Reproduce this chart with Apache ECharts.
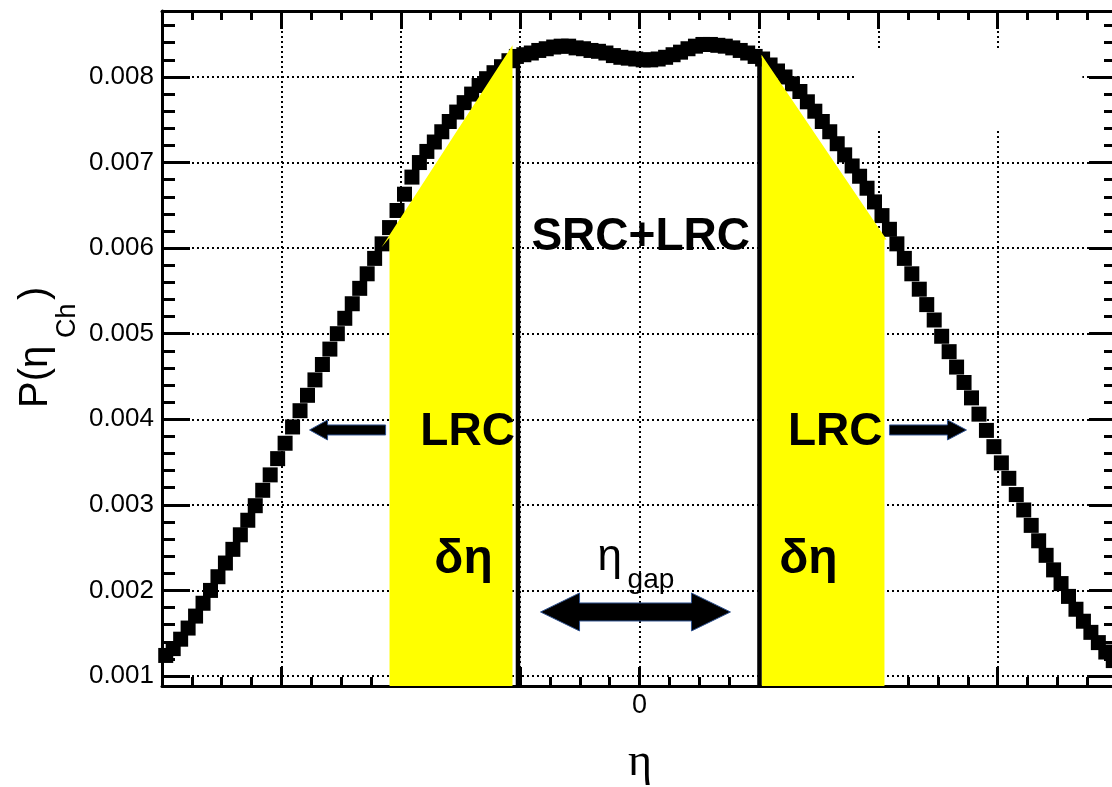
<!DOCTYPE html>
<html>
<head>
<meta charset="utf-8">
<script src="https://cdn.jsdelivr.net/npm/echarts@6/dist/echarts.min.js"></script>
<style>
  html, body { margin: 0; padding: 0; background: #ffffff; }
  #chart { width: 1112px; height: 787px; }
</style>
</head>
<body>
<div id="chart"></div>
<script>
// Histogram binning in pseudorapidity
const ETA_MIN = -4, ETA_MAX = 4, BIN_WIDTH = 0.0625;

// P(eta) per bin, eta from -4 up to 0
const densityNeg = [
  0.00124, 0.00132, 0.00143, 0.00156, 0.00170, 0.00185, 0.00200, 0.00216, 0.00232, 0.00248,
  0.00265, 0.00282, 0.00299, 0.00317, 0.00335, 0.00354, 0.00372, 0.00391, 0.00410, 0.00428,
  0.00446, 0.00464, 0.00482, 0.00500, 0.00518, 0.00535, 0.00553, 0.00570, 0.00588, 0.00605,
  0.00624, 0.00644, 0.00663, 0.00683, 0.00700, 0.00713, 0.00724, 0.00736, 0.00748, 0.00759,
  0.00770, 0.00780, 0.00790, 0.00798, 0.00805, 0.00812, 0.00819, 0.00824,
  0.00826, 0.00828, 0.00831, 0.00833, 0.00835, 0.00836, 0.00836, 0.00834,
  0.00833, 0.00831, 0.00830, 0.00828, 0.00825, 0.00823, 0.00822, 0.00821
];
// P(eta) per bin, eta from 0 up to +4
const densityPos = [
  0.00820, 0.00820, 0.00821, 0.00823, 0.00826, 0.00829, 0.00833, 0.00836,
  0.00838, 0.00838, 0.00837, 0.00836, 0.00834, 0.00831, 0.00828, 0.00824,
  0.00821, 0.00814, 0.00807, 0.00800, 0.00792, 0.00783, 0.00771, 0.00760, 0.00748, 0.00736,
  0.00722, 0.00709, 0.00696, 0.00684, 0.00670, 0.00654, 0.00638, 0.00622, 0.00605, 0.00588,
  0.00570, 0.00552, 0.00534, 0.00516, 0.00497, 0.00479, 0.00461, 0.00443, 0.00425, 0.00406,
  0.00387, 0.00368, 0.00349, 0.00331, 0.00312, 0.00294, 0.00276, 0.00258, 0.00241, 0.00224,
  0.00208, 0.00193, 0.00178, 0.00164, 0.00151, 0.00139, 0.00128, 0.00118
];

// Axis range and ticks
const Y_MIN = 0.000883, Y_MAX = 0.008771;
const yTickValues = [0.001, 0.002, 0.003, 0.004, 0.005, 0.006, 0.007, 0.008];
const yMinorValues = [
  0.0012, 0.0014, 0.0016, 0.0018, 0.0022, 0.0024, 0.0026, 0.0028,
  0.0032, 0.0034, 0.0036, 0.0038, 0.0042, 0.0044, 0.0046, 0.0048,
  0.0052, 0.0054, 0.0056, 0.0058, 0.0062, 0.0064, 0.0066, 0.0068,
  0.0072, 0.0074, 0.0076, 0.0078, 0.0082, 0.0084, 0.0086
];
const xTickLabels = { 0: '0' };

// Annotation geometry in (eta, P) coordinates
const bandLeft  = [[-2.161, 0.00601], [-1.064, 0.00837], [-1.064, Y_MIN], [-2.094, Y_MIN], [-2.094, 0.00612]];
const bandRight = [[1.022, 0.00826], [2.069, 0.00610], [2.052, 0.00610], [2.052, Y_MIN], [1.022, Y_MIN]];
const dividerEta = [-1.018, 1.005];
const dividerTop = [0.00825, 0.00822];
const arrowFrom = [-2.127, 2.094, -0.829];
const arrowTo   = [-2.764, 2.739, 0.762];
const arrowY    = [0.003875, 0.003875, 0.001748];
const arrowBoth = [false, false, true];
const labelText = ['SRC+LRC', 'LRC', 'LRC', 'δη', 'δη', 'η', 'gap'];
const labelEta  = [0.01, -1.44, 1.64, -1.474, 1.415, -0.352, -0.10];
const labelY    = [0.006130, 0.003851, 0.003851, 0.002356, 0.002356, 0.002379, 0.002122];

const etaCentres = [];
const nBins = Math.round((ETA_MAX - ETA_MIN) / BIN_WIDTH);
for (let i = 0; i < nBins; i++) etaCentres.push(ETA_MIN + (i + 0.5) * BIN_WIDTH);
const density = densityNeg.concat(densityPos);
const points = etaCentres.map((x, i) => [x, density[i]]);

const SANS = 'Liberation Sans, Arial, Helvetica, sans-serif';
const labelFont = [
  'bold 46px ' + SANS, 'bold 46px ' + SANS, 'bold 46px ' + SANS,
  'bold 48px ' + SANS, 'bold 48px ' + SANS,
  '44px ' + SANS, '28px ' + SANS
];
const labelAlign = ['center', 'center', 'center', 'center', 'center', 'left', 'left'];
const arrowSize = [
  { half: 5, headHalf: 10, headLen: 18 },
  { half: 5, headHalf: 10, headLen: 19 },
  { half: 9, headHalf: 19, headLen: 39 }
];

function arrowPolygon(p0, p1, s, both) {
  const dir = Math.sign(p1[0] - p0[0]);
  const y = p1[1];
  const pts = [];
  if (both) {
    pts.push([p0[0], y], [p0[0] + dir * s.headLen, y - s.headHalf], [p0[0] + dir * s.headLen, y - s.half]);
  } else {
    pts.push([p0[0], y - s.half]);
  }
  const b = p1[0] - dir * s.headLen;
  pts.push([b, y - s.half], [b, y - s.headHalf], [p1[0], y], [b, y + s.headHalf], [b, y + s.half]);
  if (both) {
    pts.push([p0[0] + dir * s.headLen, y + s.half], [p0[0] + dir * s.headLen, y + s.headHalf]);
  } else {
    pts.push([p0[0], y + s.half]);
  }
  return pts;
}

const tickStyle = { color: '#000', width: 3 };
const frameLine = { show: true, onZero: false, lineStyle: { color: '#000', width: 3 } };
const hiddenLine = { show: false, onZero: false };
const gridDots = { show: true, lineStyle: { color: '#000', width: 2, type: [2, 3] } };

const chart = echarts.init(document.getElementById('chart'), null, { renderer: 'canvas' });

chart.setOption({
  backgroundColor: '#ffffff',
  animation: false,
  grid: { left: 162, right: -5, top: 11, bottom: 101, containLabel: false, outerBoundsMode: 'none' },
  xAxis: [
    {
      type: 'value', position: 'bottom', min: ETA_MIN, max: ETA_MAX, interval: 1,
      axisLine: frameLine,
      axisTick: { show: true, inside: true, length: 19, lineStyle: tickStyle },
      minorTick: { show: true, splitNumber: 4, length: 9, lineStyle: tickStyle },
      axisLabel: {
        show: true, margin: 6, color: '#000', fontFamily: SANS, fontSize: 27,
        formatter: v => (xTickLabels[v] !== undefined ? xTickLabels[v] : '')
      },
      splitLine: gridDots
    },
    {
      type: 'value', position: 'top', min: ETA_MIN, max: ETA_MAX, interval: 1,
      axisLine: frameLine,
      axisTick: { show: true, inside: true, length: 18, lineStyle: tickStyle },
      minorTick: { show: true, splitNumber: 4, length: 9, lineStyle: tickStyle },
      axisLabel: { show: false },
      splitLine: { show: false }
    }
  ],
  yAxis: [
    {
      type: 'value', position: 'left', min: Y_MIN, max: Y_MAX,
      axisLine: frameLine,
      axisTick: { show: true, inside: true, length: 28, lineStyle: tickStyle, customValues: yTickValues },
      axisLabel: {
        show: true, margin: 8, color: '#000', fontFamily: SANS, fontSize: 26,
        customValues: yTickValues, formatter: v => v.toFixed(3)
      },
      splitLine: gridDots
    },
    {
      type: 'value', position: 'left', min: Y_MIN, max: Y_MAX,
      axisLine: hiddenLine,
      axisTick: { show: true, inside: true, length: 13, lineStyle: tickStyle, customValues: yMinorValues },
      axisLabel: { show: false },
      splitLine: { show: false }
    },
    {
      type: 'value', position: 'right', min: Y_MIN, max: Y_MAX,
      axisLine: frameLine,
      axisTick: { show: true, inside: true, length: 28, lineStyle: tickStyle, customValues: yTickValues },
      axisLabel: { show: false },
      splitLine: { show: false }
    },
    {
      type: 'value', position: 'right', min: Y_MIN, max: Y_MAX,
      axisLine: hiddenLine,
      axisTick: { show: true, inside: true, length: 13, lineStyle: tickStyle, customValues: yMinorValues },
      axisLabel: { show: false },
      splitLine: { show: false }
    }
  ],
  series: [
    {
      // P(eta) histogram drawn as square markers
      type: 'scatter', name: 'P', xAxisIndex: 0, yAxisIndex: 0, z: 2,
      data: points, symbol: 'rect', symbolSize: 15, clip: false,
      itemStyle: { color: '#000', opacity: 1 },
      silent: true,
      markArea: {
        silent: true,
        itemStyle: { color: '#ffffff', opacity: 1 },
        data: [[{ xAxis: 1.80, yAxis: 0.00738 }, { xAxis: 3.71, yAxis: 0.00831 }]]
      }
    },
    {
      // shaded delta-eta windows
      type: 'custom', xAxisIndex: 0, yAxisIndex: 0, z: 3, silent: true, clip: false,
      data: [[0], [1]],
      renderItem: (params, api) => {
        const poly = [bandLeft, bandRight][params.dataIndex];
        return {
          type: 'polygon',
          shape: { points: poly.map(p => api.coord(p)) },
          style: { fill: '#ffff00', stroke: null }
        };
      }
    },
    {
      // window boundaries at |eta| = 1
      type: 'custom', xAxisIndex: 0, yAxisIndex: 0, z: 4, silent: true, clip: false,
      data: dividerEta.map((e, i) => [e, dividerTop[i]]),
      renderItem: (params, api) => {
        const i = params.dataIndex;
        const top = api.coord([dividerEta[i], dividerTop[i]]);
        const bot = api.coord([dividerEta[i], Y_MIN]);
        return {
          type: 'line',
          shape: { x1: top[0], y1: top[1], x2: bot[0], y2: bot[1] },
          style: { stroke: '#000', lineWidth: 4.5 }
        };
      }
    },
    {
      // arrows
      type: 'custom', xAxisIndex: 0, yAxisIndex: 0, z: 5, silent: true, clip: false,
      data: arrowFrom.map((e, i) => [e, arrowY[i]]),
      renderItem: (params, api) => {
        const i = params.dataIndex;
        const p0 = api.coord([arrowFrom[i], arrowY[i]]);
        const p1 = api.coord([arrowTo[i], arrowY[i]]);
        return {
          type: 'polygon',
          shape: { points: arrowPolygon(p0, p1, arrowSize[i], arrowBoth[i]) },
          style: { fill: '#000', stroke: '#2f528f', lineWidth: 1 }
        };
      }
    },
    {
      // text annotations
      type: 'custom', xAxisIndex: 0, yAxisIndex: 0, z: 6, silent: true, clip: false,
      data: labelEta.map((e, i) => [e, labelY[i]]),
      renderItem: (params, api) => {
        const i = params.dataIndex;
        const p = api.coord([labelEta[i], labelY[i]]);
        return {
          type: 'text', x: p[0], y: p[1],
          style: {
            text: labelText[i], font: labelFont[i], fill: '#000',
            align: labelAlign[i], textAlign: labelAlign[i],
            verticalAlign: 'middle', textVerticalAlign: 'middle'
          }
        };
      }
    }
  ],
  graphic: [
    {
      // y axis title P(eta_Ch), rotated
      type: 'group', x: 50, y: 408, rotation: Math.PI / 2, silent: true,
      children: [
        { type: 'text', x: 0, y: -14, style: { text: 'P(η', font: '40px ' + SANS, fill: '#000', align: 'left', textAlign: 'left', verticalAlign: 'middle', textVerticalAlign: 'middle' } },
        { type: 'text', x: 70, y: 18, style: { text: 'Ch', font: '27px ' + SANS, fill: '#000', align: 'left', textAlign: 'left', verticalAlign: 'middle', textVerticalAlign: 'middle' } },
        { type: 'text', x: 108, y: -14, style: { text: ')', font: '40px ' + SANS, fill: '#000', align: 'left', textAlign: 'left', verticalAlign: 'middle', textVerticalAlign: 'middle' } }
      ]
    },
    {
      // x axis title
      type: 'text', x: 640, y: 763, silent: true,
      style: { text: 'η', font: '46px Liberation Serif, Times New Roman, serif', fill: '#000', align: 'center', textAlign: 'center', verticalAlign: 'middle', textVerticalAlign: 'middle' }
    }
  ]
});
</script>
</body>
</html>
